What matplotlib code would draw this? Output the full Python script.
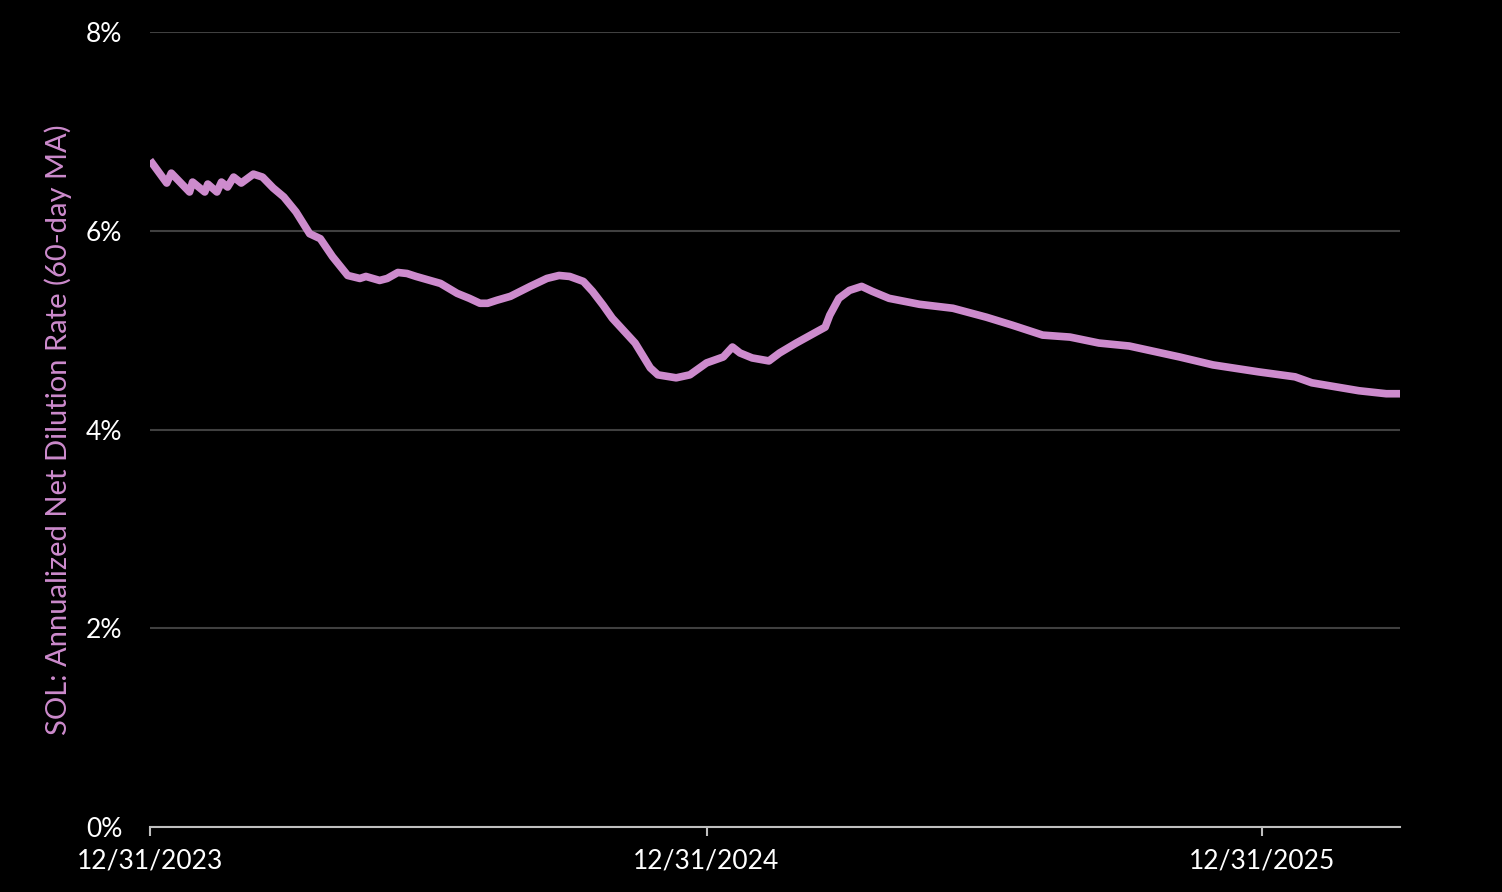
import numpy as np
import pandas as pd
import matplotlib.pyplot as plt
import matplotlib.dates as mdates
from matplotlib.ticker import FuncFormatter

# days after 12/31/2023 and annualized net dilution rate (%)
days = [0, 11, 14, 26, 28, 36, 38, 44, 47, 51, 55, 60, 68, 74, 81, 88, 96, 105,
        112, 120, 130, 138, 142, 151, 156, 163, 169, 175, 191, 202, 210, 217, 222,
        228, 237, 250, 261, 269, 276, 285, 291, 298, 304, 313, 319, 329, 334, 346,
        355, 366, 377, 383, 388, 396, 407, 414, 425, 438, 444, 447, 453, 460, 468,
        475, 486, 506, 528, 550, 567, 587, 605, 624, 644, 659, 677, 699, 729, 753,
        764, 795, 813, 822]
rate = [6.71, 6.48, 6.58, 6.39, 6.49, 6.39, 6.47, 6.39, 6.49, 6.44, 6.54, 6.48,
        6.57, 6.54, 6.43, 6.34, 6.19, 5.97, 5.92, 5.74, 5.55, 5.52, 5.54, 5.50,
        5.52, 5.58, 5.57, 5.54, 5.47, 5.37, 5.32, 5.27, 5.27, 5.30, 5.34, 5.44,
        5.52, 5.55, 5.54, 5.49, 5.39, 5.25, 5.12, 4.97, 4.87, 4.62, 4.55, 4.52,
        4.55, 4.67, 4.73, 4.83, 4.77, 4.72, 4.69, 4.77, 4.87, 4.98, 5.03, 5.15,
        5.32, 5.40, 5.44, 5.39, 5.32, 5.26, 5.22, 5.13, 5.05, 4.95, 4.93, 4.87,
        4.84, 4.79, 4.73, 4.65, 4.58, 4.53, 4.47, 4.39, 4.36, 4.36]
dates = pd.Timestamp('2023-12-31') + pd.to_timedelta(days, unit='D')
tick_dates = pd.to_datetime(['2023-12-31', '2024-12-31', '2025-12-31'])

plt.rcParams['font.family'] = ['Lato', 'DejaVu Sans']

fig = plt.figure(figsize=(15.02, 8.92), dpi=100, facecolor='black')
ax = fig.add_axes([150/1502, 65/892, 1250/1502, 795/892], facecolor='black')

ax.plot(dates, rate, color='#CD8BCD', lw=5.5, solid_joinstyle='round', solid_capstyle='butt')

ax.set_ylim(0, 8)
ax.set_yticks([0, 2, 4, 6, 8])
ax.yaxis.set_major_formatter(FuncFormatter(lambda v, p: f'{v:.0f}%'))
ax.set_xlim(tick_dates[0], dates[-1])
ax.set_xticks(tick_dates)
ax.xaxis.set_major_formatter(mdates.DateFormatter('%m/%d/%Y'))

ax.grid(axis='y', color='#404040', lw=1.5)
ax.set_axisbelow(True)
for s in ['top', 'right', 'left']:
    ax.spines[s].set_visible(False)
ax.spines['bottom'].set_color('#bfbfbf')
ax.spines['bottom'].set_linewidth(1.5)

ax.tick_params(axis='y', length=0, pad=20, labelsize=19, labelcolor='white')
ax.tick_params(axis='x', length=6.5, width=1.5, color='#bfbfbf', pad=9,
               labelsize=19, labelcolor='white')

ax.set_ylabel('SOL: Annualized Net Dilution Rate (60-day MA)', color='#CD8BCD',
              fontsize=21, labelpad=10)

fig.savefig('out.png', dpi=100, facecolor='black')
